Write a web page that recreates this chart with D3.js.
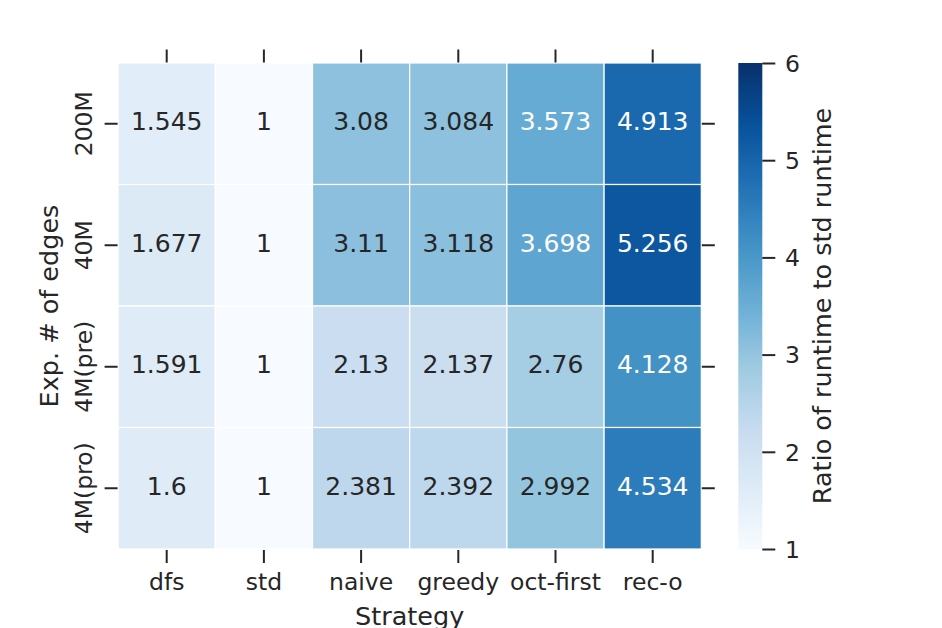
<!DOCTYPE html>
<html>
<head>
<meta charset="utf-8">
<script src="https://cdn.jsdelivr.net/npm/d3@7"></script>
<style>
  html, body { margin: 0; padding: 0; background: #ffffff; }
  svg { display: block; }
  text { font-family: "DejaVu Sans", sans-serif; fill: #262626; }
</style>
</head>
<body>
<svg id="chart" width="942" height="628"></svg>
<script>
// ---- data ----
const rowLabels = ["200M", "40M", "4M(pre)", "4M(pro)"];
const colLabels = ["dfs", "std", "naive", "greedy", "oct-first", "rec-o"];
const row200M  = [1.545, 1, 3.08, 3.084, 3.573, 4.913];
const row40M   = [1.677, 1, 3.11, 3.118, 3.698, 5.256];
const row4Mpre = [1.591, 1, 2.13, 2.137, 2.76, 4.128];
const row4Mpro = [1.6, 1, 2.381, 2.392, 2.992, 4.534];
const colorbarTicks = [1, 2, 3, 4, 5, 6];
const xLabel = "Strategy";
const yLabel = "Exp. # of edges";
const cbLabel = "Ratio of runtime to std runtime";
const vmin = 1, vmax = 6;

const values = [row200M, row40M, row4Mpre, row4Mpro];

// ---- colormap (matplotlib Blues) ----
const bluesColors = ["#f7fbff", "#deebf7", "#c6dbef", "#9ecae1", "#6baed6",
                     "#4292c6", "#2171b5", "#08519c", "#08306b"];
const color = d3.scaleLinear()
  .domain(d3.range(bluesColors.length).map(i => vmin + (vmax - vmin) * i / (bluesColors.length - 1)))
  .range(bluesColors)
  .interpolate(d3.interpolateRgb)
  .clamp(true);

function relLum(c) {
  const rgb = d3.rgb(c);
  const f = v => { v /= 255; return v <= 0.03928 ? v / 12.92 : Math.pow((v + 0.055) / 1.055, 2.4); };
  return 0.2126 * f(rgb.r) + 0.7152 * f(rgb.g) + 0.0722 * f(rgb.b);
}

// ---- layout ----
const svg = d3.select("#chart");
const hm = { left: 118.1, right: 701.3, top: 63, bottom: 549 };
const cb = { left: 738.3, right: 762.3, top: 63, bottom: 549 };
const tickLen = 13;
const tickColor = "#262626";
const tickW = 2;

const x = d3.scaleBand().domain(colLabels).range([hm.left, hm.right]);
const y = d3.scaleBand().domain(rowLabels).range([hm.top, hm.bottom]);
const cbScale = d3.scaleLinear().domain([vmin, vmax]).range([cb.bottom, cb.top]);

// ---- cells ----
const cells = [];
values.forEach((row, ri) => row.forEach((v, ci) => cells.push({ r: rowLabels[ri], c: colLabels[ci], v })));

svg.append("g").selectAll("rect").data(cells).join("rect")
  .attr("x", d => x(d.c))
  .attr("y", d => y(d.r))
  .attr("width", x.bandwidth())
  .attr("height", y.bandwidth())
  .attr("fill", d => color(d.v))
  .attr("stroke", "#ffffff")
  .attr("stroke-width", 1.2);

svg.append("g").selectAll("text").data(cells).join("text")
  .attr("x", d => x(d.c) + x.bandwidth() / 2)
  .attr("y", d => y(d.r) + y.bandwidth() / 2 + 6.3)
  .attr("text-anchor", "middle")
  .style("font-size", "25px")
  .style("fill", d => relLum(color(d.v)) > 0.408 ? "#262626" : "#ffffff")
  .text(d => String(d.v));

// ---- axes ----
const xAxisBottom = d3.axisBottom(x).tickSize(tickLen).tickPadding(5);
const gxb = svg.append("g").attr("transform", `translate(0,${hm.bottom + 1})`).call(xAxisBottom);
gxb.select(".domain").remove();
gxb.selectAll("line").attr("stroke", tickColor).attr("stroke-width", tickW);
gxb.selectAll("text").remove();
gxb.selectAll(".tick").append("text")
  .attr("y", 590 - hm.bottom - 1)
  .attr("text-anchor", "middle")
  .style("font-size", "23.5px")
  .text(d => d);

const xAxisTop = d3.axisTop(x).tickSize(tickLen).tickFormat("");
const gxt = svg.append("g").attr("transform", `translate(0,${hm.top - 0.5})`).call(xAxisTop);
gxt.select(".domain").remove();
gxt.selectAll("line").attr("stroke", tickColor).attr("stroke-width", tickW);

const yAxisLeft = d3.axisLeft(y).tickSize(tickLen).tickFormat("");
const gyl = svg.append("g").attr("transform", `translate(${hm.left - 0.5},0)`).call(yAxisLeft);
gyl.select(".domain").remove();
gyl.selectAll("line").attr("stroke", tickColor).attr("stroke-width", tickW);
gyl.selectAll(".tick").append("text")
  .attr("transform", `translate(${91.7 - hm.left + 0.5},0) rotate(-90)`)
  .attr("text-anchor", "middle")
  .style("font-size", "23.5px")
  .text(d => d);

const yAxisRight = d3.axisRight(y).tickSize(tickLen).tickFormat("");
const gyr = svg.append("g").attr("transform", `translate(${hm.right + 0.5},0)`).call(yAxisRight);
gyr.select(".domain").remove();
gyr.selectAll("line").attr("stroke", tickColor).attr("stroke-width", tickW);

// axis labels
svg.append("text")
  .attr("x", (hm.left + hm.right) / 2)
  .attr("y", 625)
  .attr("text-anchor", "middle")
  .style("font-size", "25.5px")
  .text(xLabel);

svg.append("text")
  .attr("transform", `translate(57.5,${(hm.top + hm.bottom) / 2}) rotate(-90)`)
  .attr("text-anchor", "middle")
  .style("font-size", "25.5px")
  .text(yLabel);

// ---- colorbar ----
const defs = svg.append("defs");
const grad = defs.append("linearGradient").attr("id", "cbgrad")
  .attr("x1", "0").attr("y1", "1").attr("x2", "0").attr("y2", "0");
d3.range(0, 1.0001, 0.02).forEach(t => {
  grad.append("stop").attr("offset", t).attr("stop-color", color(vmin + t * (vmax - vmin)));
});
svg.append("rect")
  .attr("x", cb.left).attr("y", cb.top)
  .attr("width", cb.right - cb.left).attr("height", cb.bottom - cb.top)
  .attr("fill", "url(#cbgrad)");

const cbAxis = d3.axisRight(cbScale).tickValues(colorbarTicks).tickSize(tickLen).tickFormat("");
const gcb = svg.append("g").attr("transform", `translate(${cb.right},0)`).call(cbAxis);
gcb.select(".domain").remove();
gcb.selectAll("line").attr("stroke", tickColor).attr("stroke-width", tickW);
gcb.selectAll(".tick").append("text")
  .attr("x", 785 - cb.right)
  .attr("y", 8.3)
  .attr("text-anchor", "start")
  .style("font-size", "23.5px")
  .text(d => d3.format("d")(d));

svg.append("text")
  .attr("transform", `translate(831,${(cb.top + cb.bottom) / 2}) rotate(-90)`)
  .attr("text-anchor", "middle")
  .style("font-size", "25.5px")
  .text(cbLabel);
</script>
</body>
</html>
